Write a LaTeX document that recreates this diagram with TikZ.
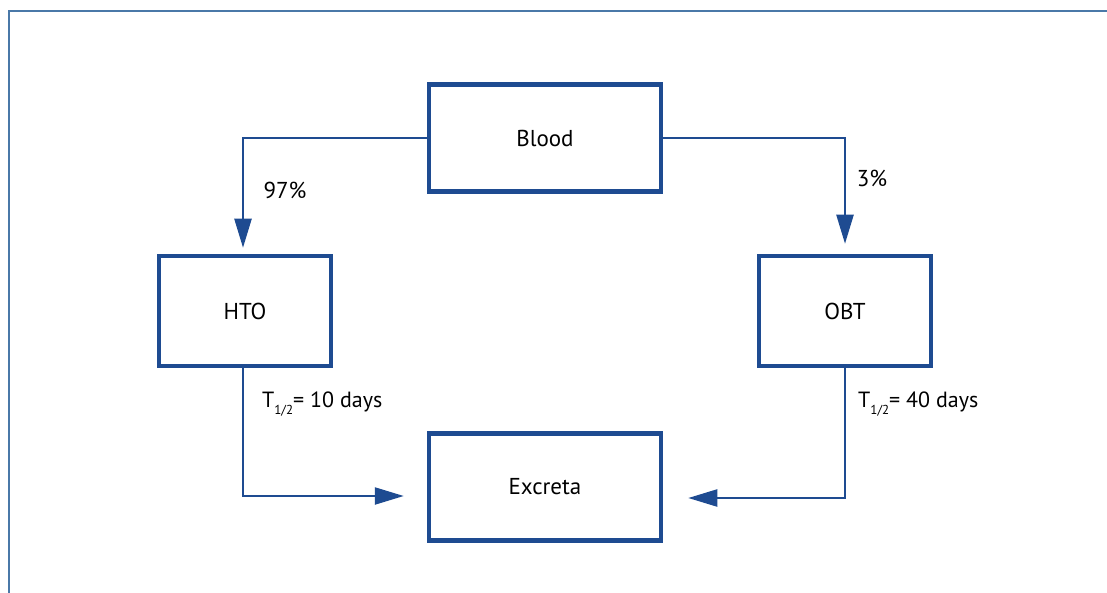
\documentclass[tikz,border=0pt]{standalone}
\usepackage{fontspec}
\setmainfont{PT Sans}
\usetikzlibrary{arrows.meta}
\definecolor{boxblue}{RGB}{30,75,145}
\definecolor{framecol}{RGB}{74,120,168}
\tikzset{
  stagebox/.style={draw=boxblue, line width=4.5pt, fill=white, rectangle, inner sep=0pt,
    font=\fontsize{23}{27}\selectfont, text=black},
  hbox/.style={stagebox, minimum width=232pt, minimum height=107pt},
  sbox/.style={stagebox, minimum width=172pt, minimum height=110pt},
  flow/.style={draw=boxblue, line width=2.3pt, -{Triangle[length=29pt,width=17pt]}},
  lbl/.style={font=\fontsize{23}{27}\selectfont, text=black, inner sep=0pt},
  tlbl/.style={font=\fontsize{22}{26}\selectfont, text=black, inner sep=0pt, anchor=base west}
}
\newcommand{\halfsub}{\raisebox{-7pt}{\fontsize{13}{13}\selectfont 1/2}}
\begin{document}
\begin{tikzpicture}[x=1pt,y=-1pt]
  \useasboundingbox (0,0) rectangle (1107,593);
  % frame
  \coordinate (fc) at (9,11);
  \coordinate (ftr) at (1107,11);
  \coordinate (fbl) at (9,593);
  \draw[framecol, line width=2pt] (fbl) -- (fc) -- (ftr);
  % boxes
  \node[hbox] (blood) at (545,138) {Blood};
  \node[sbox] (hto) at (245,311) {HTO};
  \node[sbox] (obt) at (845,311) {OBT};
  \node[hbox] (excreta) at (545,487) {Excreta};
  % connectors
  \draw[flow, shorten >=6pt] (blood.west) -| ([xshift=-2pt]hto.north);
  \draw[flow, shorten >=10pt] (blood.east) -| (obt.north);
  \draw[flow, shorten >=23pt] ([xshift=-2pt]hto.south) |- ([yshift=-9pt]excreta.west);
  \draw[flow, shorten >=25pt] (obt.south) |- ([yshift=-11pt]excreta.east);
  % labels
  \node[lbl] (p97) at (285,190) {97\%};
  \node[lbl] (p3) at (872,178) {3\%};
  \node[tlbl] (t10) at (262,407) {T\halfsub= 10 days};
  \node[tlbl] (t40) at (858,407) {T\halfsub= 40 days};
\end{tikzpicture}
\end{document}
